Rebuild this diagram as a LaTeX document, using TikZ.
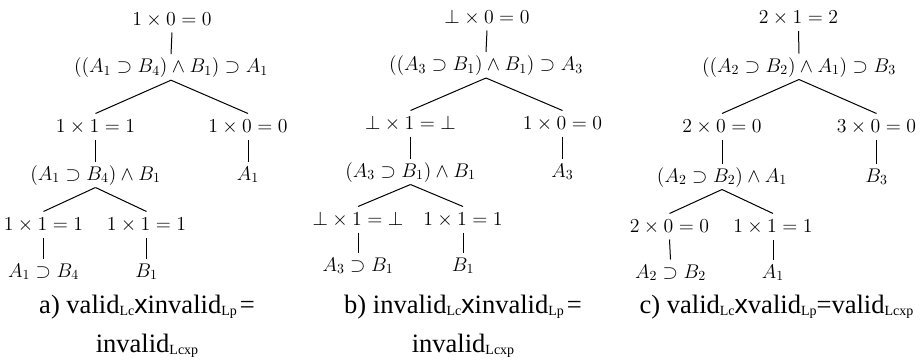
\RequirePackage{fix-cm}
\documentclass[tikz,border=0pt]{standalone}
\usepackage{amssymb}
\usepackage{amsmath}
\usepackage{fontspec}
\newfontfamily\serifcaption{Liberation Serif}
\newfontfamily\sanscaption{Liberation Sans}
\newcommand{\lsub}[1]{\raisebox{-1.5pt}{\fontsize{10.5}{11}\selectfont #1}}
\newcommand{\capx}{{\sanscaption x}}
\usepackage{tikz}
\tikzset{every picture/.style={line width=0.75pt}}
\tikzset{
  frm/.style={anchor=base, inner sep=1.5pt, text height=12pt, text depth=3.75pt,
    font=\fontsize{14.85}{18}\selectfont},
  captxt/.style={anchor=base, inner sep=0pt, align=center,
    font=\serifcaption\fontsize{19.9}{29.25}\selectfont}
}

\begin{document}
\begin{tikzpicture}[x=0.75pt,y=0.75pt,yscale=-1,xscale=1]
%set diagram left start at 0, and has height of 361
\useasboundingbox (0,0) rectangle (922,361);

%Text Node: tree a)
\node[frm] (a0) at (172,25) {$1\times 0=0$};
\node[frm] (a1) at (171,72.7) {$((A_1\supset B_4)\wedge B_1)\supset A_1$};
\node[frm] (a2) at (95.5,132) {$1\times 1=1$};
\node[frm] (a3) at (248,132) {$1\times 0=0$};
\node[frm] (a4) at (95.5,180) {$(A_1\supset B_4)\wedge B_1$};
\node[frm] (a5) at (248,180) {$A_1$};
\node[frm] (a6) at (43.5,230) {$1\times 1=1$};
\node[frm] (a7) at (146.5,230) {$1\times 1=1$};
\node[frm] (a8) at (43.5,277) {$A_1\supset B_4$};
\node[frm] (a9) at (146.5,277) {$B_1$};
%Straight Lines: tree a)
\draw    (a0.south) -- (a1.north) ;
\draw    (a1.south) -- (a2.north) ;
\draw    (a1.south) -- (a3.north) ;
\draw    (a2.south) -- (a4.north) ;
\draw    (a3.south) -- (a5.north) ;
\draw    (a4.south) -- (a6.north) ;
\draw    (a4.south) -- (a7.north) ;
\draw    (a6.south) -- (a8.north) ;
\draw    (a7.south) -- (a9.north) ;

%Text Node: tree b)
\node[frm] (b0) at (487,23) {$\bot\times 0=0$};
\node[frm] (b1) at (486,70.5) {$((A_3\supset B_1)\wedge B_1)\supset A_3$};
\node[frm] (b2) at (410.5,129) {$\bot\times 1=\bot$};
\node[frm] (b3) at (562.5,129) {$1\times 0=0$};
\node[frm] (b4) at (410.5,177) {$(A_3\supset B_1)\wedge B_1$};
\node[frm] (b5) at (562.5,177) {$A_3$};
\node[frm] (b6) at (358,225) {$\bot\times 1=\bot$};
\node[frm] (b7) at (463,225) {$1\times 1=1$};
\node[frm] (b8) at (358,271) {$A_3\supset B_1$};
\node[frm] (b9) at (463,271) {$B_1$};
%Straight Lines: tree b)
\draw    (b0.south) -- (b1.north) ;
\draw    (b1.south) -- (b2.north) ;
\draw    (b1.south) -- (b3.north) ;
\draw    (b2.south) -- (b4.north) ;
\draw    (b3.south) -- (b5.north) ;
\draw    (b4.south) -- (b6.north) ;
\draw    (b4.south) -- (b7.north) ;
\draw    (b6.south) -- (b8.north) ;
\draw    (b7.south) -- (b9.north) ;

%Text Node: tree c)
\node[frm] (c0) at (798.5,23.5) {$2\times 1=2$};
\node[frm] (c1) at (799,72) {$((A_2\supset B_2)\wedge A_1)\supset B_3$};
\node[frm] (c2) at (722,132) {$2\times 0=0$};
\node[frm] (c3) at (876.5,132) {$3\times 0=0$};
\node[frm] (c4) at (722,182) {$(A_2\supset B_2)\wedge A_1$};
\node[frm] (c5) at (876.5,182) {$B_3$};
\node[frm] (c6) at (669.5,232) {$2\times 0=0$};
\node[frm] (c7) at (773,232) {$1\times 1=1$};
\node[frm] (c8) at (670.5,278) {$A_2\supset B_2$};
\node[frm] (c9) at (773,278) {$A_1$};
%Straight Lines: tree c)
\draw    (c0.south) -- (c1.north) ;
\draw    (c1.south) -- (c2.north) ;
\draw    (c1.south) -- (c3.north) ;
\draw    (c2.south) -- (c4.north) ;
\draw    (c3.south) -- (c5.north) ;
\draw    (c4.south) -- (c6.north) ;
\draw    (c4.south) -- (c7.north) ;
\draw    (c6.south) -- (c8.north) ;
\draw    (c7.south) -- (c9.north) ;

%Text Node: captions (base = last line)
\node[captxt] (capa) at (147,352) {a) valid\lsub{Lc}\capx invalid\lsub{Lp}\hspace{2.25pt}=\\invalid\lsub{Lcxp}};
\node[captxt] (capb) at (463,352) {b) invalid\lsub{Lc}\capx invalid\lsub{Lp}\hspace{2.25pt}=\\invalid\lsub{Lcxp}};
\node[captxt] (capc) at (776.5,313) {c) valid\lsub{Lc}\capx valid\lsub{Lp}=valid\lsub{Lcxp}};
\end{tikzpicture}
\end{document}
